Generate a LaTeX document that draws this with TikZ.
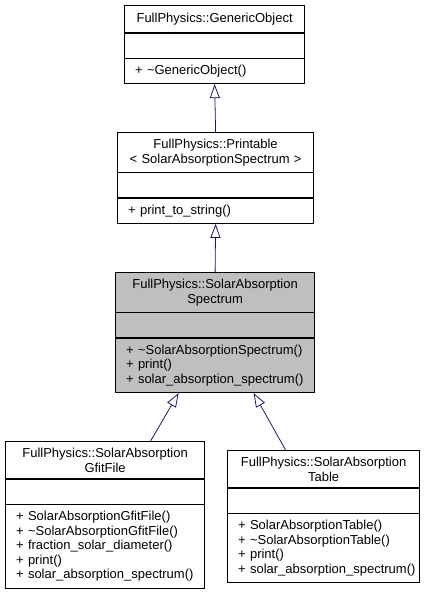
\documentclass[tikz,border=0pt]{standalone}
\usepackage{fontspec}
\setmainfont{Liberation Sans}
\usepackage{tikz}
\usetikzlibrary{arrows.meta}
\usetikzlibrary{matrix,positioning}

\definecolor{edgeblue}{HTML}{191970}
\hyphenpenalty=10000

\begin{document}
\begin{tikzpicture}[x=1pt, y=-1pt, font=\fontsize{13}{14.6}\selectfont,
class/.style={matrix of nodes, inner sep=0pt, row sep=-\pgflinewidth, nodes in empty cells,
nodes={draw, line width=0.8pt, inner xsep=10.5pt, inner ysep=6.5pt, minimum height=25pt, anchor=center, align=left},
row 1/.style={nodes={align=center}}},
inherit/.style={draw=edgeblue, line width=0.8pt, -{Triangle[open, length=14pt, width=10pt]}}]

\useasboundingbox (0,0) rectangle (432,596);

\matrix[class, nodes={text width=159pt}, row 1/.style={nodes={align=center, minimum height=27pt}}, anchor=north west] (generic) at (124,5) {
FullPhysics::GenericObject \\
\\
+ \textasciitilde GenericObject() \\};

\matrix[class, nodes={text width=175pt}, anchor=north west] (printable) at (117,132) {
{FullPhysics::Printable\\ \textless{} SolarAbsorptionSpectrum \textgreater} \\
\\
+ print\_to\_string() \\};

\matrix[class, nodes={text width=178pt, fill=gray!50}, anchor=north west] (spectrum) at (115,272) {
{FullPhysics::SolarAbsorption\\ Spectrum} \\
\\
{+ \textasciitilde SolarAbsorptionSpectrum()\\ + print()\\ +~solar\_absorption\_spectrum()} \\};

\matrix[class, nodes={text width=178pt}, anchor=north west] (gfitfile) at (5,441) {
{FullPhysics::SolarAbsorption\\ GfitFile} \\
\\
{+ SolarAbsorptionGfitFile()\\ + \textasciitilde SolarAbsorptionGfitFile()\\ + fraction\_solar\_diameter()\\ + print()\\ +~solar\_absorption\_spectrum()} \\};

\matrix[class, nodes={text width=171pt}, anchor=north west] (abstable) at (227,450) {
{FullPhysics::SolarAbsorption\\ Table} \\
\\
{+ SolarAbsorptionTable()\\ + \textasciitilde SolarAbsorptionTable()\\ + print()\\ +~solar\_absorption\_spectrum()} \\};

% inheritance
\draw[inherit] (printable.north) -- (generic.south);
\draw[inherit] (spectrum.north) -- (printable.south);
\draw[inherit] ([xshift=45.5pt]gfitfile.north) -- ([xshift=-36.5pt]spectrum.south);
\draw[inherit] ([xshift=-38pt]abstable.north) -- ([xshift=38.5pt]spectrum.south);
%
\end{tikzpicture}
\end{document}
